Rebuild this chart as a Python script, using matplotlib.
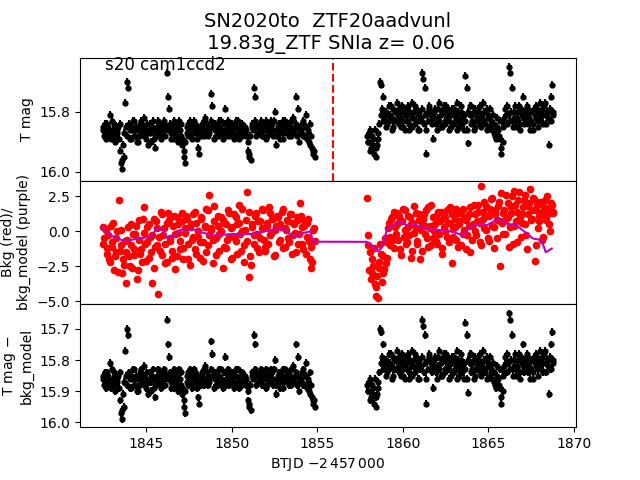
import matplotlib
matplotlib.use('Agg')
import matplotlib.pyplot as plt
import numpy as np

# T mag, first orbit (~1842.45 - 1854.85)
mag_a = [15.86, 15.88, 15.84, 15.87, 15.85, 15.81, 15.89, 15.86, 15.84, 15.88,
         15.87, 15.85, 15.93, 15.97, 15.99, 15.95, 15.77, 15.70, 15.72, 15.86,
         15.89, 15.85, 15.83, 15.88, 15.86, 15.90, 15.84, 15.87, 15.85, 15.82,
         15.88, 15.86, 15.91, 15.84, 15.87, 15.85, 15.89, 15.92, 15.86, 15.83,
         15.87, 15.85, 15.88, 15.84, 15.86, 15.67, 15.75, 15.79, 15.87, 15.85,
         15.89, 15.84, 15.86, 15.90, 15.83, 15.88, 15.91, 15.93, 15.97, 15.87,
         15.84, 15.86, 15.88, 15.85, 15.83, 15.87, 15.89, 15.85, 15.94, 15.86,
         15.84, 15.88, 15.82, 15.86, 15.85, 15.87, 15.74, 15.78, 15.84, 15.86,
         15.88, 15.85, 15.83, 15.87, 15.86, 15.84, 15.79, 15.88, 15.85, 15.87,
         15.84, 15.86, 15.89, 15.85, 15.83, 15.87, 15.86, 15.84, 15.88, 15.85,
         15.87, 15.86, 15.90, 15.94, 15.96, 15.85, 15.72, 15.75, 15.84, 15.87,
         15.85, 15.83, 15.88, 15.86, 15.84, 15.89, 15.85, 15.87, 15.83, 15.86,
         15.88, 15.80, 15.91, 15.85, 15.87, 15.84, 15.86, 15.89, 15.83, 15.85,
         15.87, 15.84, 15.88, 15.86, 15.82, 15.85, 15.75, 15.79, 15.90, 15.86,
         15.84, 15.88, 15.85, 15.81, 15.87, 15.90, 15.84, 15.92, 15.93, 15.95]
# in-between cadences, first orbit
mag_a2 = [15.85, 15.87, 15.89, 15.84, 15.86, 15.88, 15.83, 15.87, 15.90, 15.85,
          15.86, 15.89, 15.84, 15.96, 15.91, 15.87, 15.85, 15.88, 15.84, 15.89,
          15.86, 15.83, 15.88, 15.85, 15.90, 15.86, 15.88, 15.83, 15.87, 15.85,
          15.89, 15.84, 15.87, 15.86, 15.90, 15.83, 15.86, 15.88, 15.85, 15.87,
          15.84, 15.89, 15.86, 15.83, 15.88, 15.85, 15.86, 15.84, 15.89, 15.86,
          15.83, 15.87, 15.85, 15.88, 15.86, 15.84, 15.89, 15.95, 15.90, 15.85,
          15.88, 15.83, 15.86, 15.89, 15.85, 15.84, 15.87, 15.92, 15.86, 15.88,
          15.85, 15.83, 15.87, 15.84, 15.88, 15.86, 15.83, 15.85, 15.89, 15.84,
          15.86, 15.88, 15.85, 15.83, 15.87, 15.89, 15.84, 15.86, 15.83, 15.88,
          15.86, 15.84, 15.87, 15.88, 15.85, 15.83, 15.89, 15.86, 15.84, 15.87,
          15.85, 15.88, 15.93, 15.95, 15.88, 15.84, 15.86, 15.83, 15.88, 15.85,
          15.87, 15.86, 15.84, 15.88, 15.86, 15.83, 15.88, 15.85, 15.87, 15.84,
          15.86, 15.83, 15.88, 15.86, 15.84, 15.89, 15.85, 15.83, 15.87, 15.86,
          15.84, 15.88, 15.85, 15.83, 15.87, 15.86, 15.84, 15.88, 15.85, 15.87,
          15.86, 15.83, 15.88, 15.85, 15.89, 15.86, 15.91, 15.88, 15.94, 15.93]

# T mag, second orbit (~1857.9 - 1868.8)
mag_b = [15.88, 15.90, 15.86, 15.92, 15.89, 15.94, 15.95, 15.91, 15.87, 15.70,
         15.71, 15.75, 15.82, 15.80, 15.84, 15.78, 15.81, 15.86, 15.79, 15.83,
         15.80, 15.77, 15.84, 15.82, 15.78, 15.85, 15.81, 15.79, 15.83, 15.86,
         15.80, 15.77, 15.82, 15.84, 15.79, 15.81, 15.86, 15.83, 15.67, 15.69,
         15.72, 15.94, 15.80, 15.78, 15.83, 15.81, 15.89, 15.79, 15.84, 15.82,
         15.77, 15.81, 15.85, 15.80, 15.83, 15.78, 15.82, 15.86, 15.80, 15.79,
         15.84, 15.81, 15.77, 15.83, 15.85, 15.80, 15.82, 15.86, 15.68, 15.72,
         15.905, 15.81, 15.78, 15.83, 15.80, 15.85, 15.82, 15.79, 15.84, 15.81,
         15.77, 15.83, 15.80, 15.86, 15.82, 15.79, 15.84, 15.81, 15.87, 15.89,
         15.85, 15.88, 15.83, 15.94, 15.90, 15.84, 15.81, 15.78, 15.65, 15.67,
         15.72, 15.83, 15.80, 15.85, 15.82, 15.78, 15.84, 15.81, 15.75, 15.80,
         15.83, 15.79, 15.82, 15.86, 15.80, 15.84, 15.81, 15.78, 15.83, 15.80,
         15.82, 15.79, 15.84, 15.77, 15.81, 15.80, 15.91, 15.75, 15.71, 15.80]
mag_b2 = [15.90, 15.87, 15.93, 15.88, 15.91, 15.86, 15.92, 15.89, 15.84, 15.81,
          15.79, 15.83, 15.80, 15.85, 15.81, 15.83, 15.78, 15.82, 15.85, 15.80,
          15.83, 15.81, 15.79, 15.85, 15.80, 15.83, 15.86, 15.81, 15.78, 15.84,
          15.82, 15.85, 15.80, 15.78, 15.83, 15.86, 15.80, 15.82, 15.79, 15.84,
          15.81, 15.86, 15.83, 15.79, 15.81, 15.84, 15.80, 15.82, 15.86, 15.79,
          15.83, 15.85, 15.80, 15.78, 15.84, 15.81, 15.79, 15.83, 15.85, 15.81,
          15.79, 15.83, 15.86, 15.80, 15.82, 15.78, 15.84, 15.81, 15.83, 15.86,
          15.80, 15.78, 15.84, 15.81, 15.86, 15.79, 15.83, 15.80, 15.78, 15.85,
          15.82, 15.80, 15.84, 15.79, 15.81, 15.85, 15.83, 15.86, 15.84, 15.88,
          15.82, 15.86, 15.89, 15.92, 15.85, 15.82, 15.79, 15.84, 15.81, 15.83,
          15.80, 15.85, 15.82, 15.78, 15.83, 15.80, 15.86, 15.79, 15.82, 15.84,
          15.81, 15.78, 15.84, 15.80, 15.83, 15.86, 15.79, 15.82, 15.80, 15.85,
          15.77, 15.83, 15.81, 15.78, 15.84, 15.80, 15.82, 15.79, 15.83, 15.81]
mag_err = 0.012

# background flux, red points
bkg_a = [0.3, -0.5, 0.1, -1.2, -2.0, 0.4, -0.8, -2.8, -1.5, 0.0,
         2.2, -1.0, -3.0, -2.4, -3.7, -0.6, -1.8, 0.5, -2.6, -1.3,
         -0.2, -3.4, 0.8, -1.6, -2.2, 1.7, -0.9, 0.3, -1.9, -0.4,
         -3.7, 0.9, -1.1, 0.2, -4.5, -1.4, 1.2, -0.3, -2.3, 0.6,
         1.3, -0.7, -1.9, 0.4, -2.7, 1.0, -0.1, -1.3, 0.7, -2.0,
         0.2, 1.1, -0.9, -2.4, 0.5, -0.4, 1.4, -1.6, 0.0, -0.8,
         0.9, -2.1, 0.3, 1.6, -1.0, 2.6, 0.1, -0.6, 1.8, -1.7,
         0.4, -0.2, 1.0, -2.6, 0.6, -1.2, 1.5, -0.4, 0.2, -1.9,
         1.2, -0.7, 0.5, 1.9, -1.4, 0.0, -2.2, 0.8, 2.8, -3.3,
         -2.4, 0.3, -0.9, 1.3, -0.2, -1.5, 0.7, 1.6, -0.6, -1.1,
         0.4, 1.7, -0.3, 0.9, -1.8, 0.1, 1.1, -0.8, 0.5, 1.4,
         -1.2, 0.2, 0.8, -0.5, 1.2, -1.6, 0.6, -0.1, 1.0, -0.9,
         2.0, 0.3, -1.3, 0.7, -0.4, 0.9, -2.0, -2.6, 0.1, -0.7]
bkg_a2 = [-0.9, 0.2, -1.6, -0.3, -2.2, -1.1, 0.6, -1.8, -0.5, -2.9,
          -1.4, 0.1, -2.0, -0.7, -1.5, 0.3, -2.5, -1.0, -0.2, -1.7,
          0.4, -2.8, -0.6, -1.3, 0.9, -0.1, -2.1, -0.8, 0.5, -1.5,
          -0.3, -2.6, 0.7, -1.0, -0.4, 1.4, -1.7, 0.2, -0.9, -2.2,
          0.8, -0.5, -1.4, 1.1, -0.2, -1.8, 0.5, -0.7, 1.3, -1.2,
          -0.1, 0.9, -2.0, 0.3, -0.6, 1.2, -1.3, 0.6, -0.4, -1.9,
          1.0, -0.8, 0.4, -1.5, 1.5, -0.3, 0.2, -2.3, 0.7, -0.5,
          1.1, -1.4, 0.0, 0.8, -1.1, 0.5, -0.6, 1.3, -2.0, 0.3,
          -0.4, 1.0, -1.6, 0.6, -0.2, 1.6, -1.0, 0.1, -0.7, 1.4,
          -1.8, 0.5, -0.3, 1.1, -1.2, 0.7, -0.5, 0.2, 1.5, -1.4,
          0.6, -0.9, 1.3, -0.1, 0.9, -1.7, 0.4, 1.0, -0.6, 0.3,
          1.6, -1.1, 0.1, 0.7, -0.8, 1.2, -0.3, 0.5, -1.5, 0.8,
          -0.2, 1.1, -0.9, 0.4, -1.6, 0.6, -0.7, -1.1, -2.2, 0.2]
bkg_b = [2.4, -0.3, -1.5, -3.0, -2.5, -3.8, -4.6, -4.8, -2.2, -1.6,
         -3.0, -2.7, -0.8, -1.9, 0.6, -0.4, 1.0, -1.2, 0.3, 1.3,
         -0.6, 0.8, -1.7, 1.6, 0.1, -0.9, 1.1, -0.3, 0.5, -1.4,
         1.8, 0.2, -0.7, 1.2, -2.0, 0.6, 0.9, -0.2, 1.5, -1.1,
         0.4, 1.9, -0.5, 0.0, 1.1, -0.9, 0.7, 1.4, -1.6, 0.3,
         1.0, -0.4, 0.6, 1.7, -2.3, 0.2, 0.9, -0.6, 1.3, 0.5,
         -1.0, 1.6, 0.1, 0.8, -0.3, 1.2, -1.5, 0.4, 1.9, 0.0,
         0.7, 1.4, -0.8, 3.2, 0.9, 0.2, 1.8, -0.5, 1.1, 2.3,
         0.4, -1.2, 1.5, 0.8, 2.1, -2.5, 0.6, 1.3, -0.2, 2.6,
         1.0, 0.3, 1.7, -0.9, 2.9, 0.7, 1.4, 2.8, -0.4, 1.2,
         2.2, 0.5, -1.3, 1.8, 3.0, 0.9, 2.4, -2.1, 1.5, 0.2,
         1.1, 2.0, -0.6, 1.7, 0.8, 2.5, 1.3, 0.0, 1.9, 1.4]
bkg_b2 = [-1.0, -2.8, -3.4, -2.0, -1.2, -4.0, -3.2, -2.6, -0.9, -3.6,
          -1.8, -0.5, -2.3, 0.2, -1.0, 0.9, -0.6, 1.4, -0.2, 0.5,
          1.1, -1.3, 0.7, -0.4, 1.5, -0.8, 0.3, 1.0, -1.9, 0.6,
          -0.1, 1.3, -0.9, 0.8, 0.1, -1.4, 1.2, 0.4, -0.5, 1.7,
          0.2, -1.0, 1.0, 0.5, -0.7, 1.4, -0.2, 0.8, -1.2, 1.1,
          0.0, 1.5, -0.8, 0.6, 1.2, -0.4, 0.3, 1.6, -1.1, 0.7,
          1.3, -0.2, 0.9, -1.3, 1.0, 0.4, 1.7, -0.6, 0.5, 1.2,
          -0.3, 1.9, 0.6, -1.0, 1.4, 2.1, 0.1, 1.1, -0.7, 1.6,
          2.4, 0.3, 1.2, -0.5, 1.8, 0.7, 2.7, -0.2, 1.5, 0.9,
          2.0, -1.1, 1.3, 2.5, 0.4, 1.9, -0.8, 2.2, 1.0, 0.6,
          1.7, 2.6, -0.3, 1.2, 2.0, 0.8, 1.5, 2.3, -1.0, 1.9,
          0.7, 2.1, 1.4, -0.4, 2.2, 1.0, 1.6, 0.5, 2.0, 1.3]

# background model, purple line
model_t = [1842.45, 1842.5, 1843.1, 1843.7, 1844.7, 1845.3, 1845.6, 1846.0, 1846.2, 1846.6,
           1847.0, 1847.9, 1848.3, 1848.9, 1850.1, 1851.3, 1851.8, 1852.4, 1853.0, 1853.4,
           1853.6, 1854.0, 1854.6, 1854.75, 1857.9, 1858.3, 1858.55, 1858.75, 1859.1, 1859.6,
           1859.9, 1860.2, 1860.6, 1860.97, 1861.5, 1862.3, 1862.9, 1863.5, 1863.9, 1864.5,
           1864.9, 1865.6, 1866.0, 1866.6, 1867.0, 1867.6, 1868.1, 1868.35, 1868.7]
model_v = [0.3, 0.07, -0.4, -0.7, -0.5, -0.4, 0.2, 0.07, -0.45, -0.4,
           0.1, 0.1, -0.1, -0.3, -0.2, -0.2, -0.05, 0.1, 0.2, -0.2,
           -0.4, -0.2, 0.0, -0.75, -0.76, -1.1, -1.43, -1.2, 0.19, 0.55,
           0.67, 0.43, 0.55, 0.31, 0.14, 0.07, -0.05, -0.29, 0.31, 0.55,
           0.43, 0.9, 0.55, 0.43, 0.07, -0.52, -0.64, -1.5, -1.24]

peak_time = 1855.9

# time stamps, regular cadence over each orbit (second set sits between the first)
t_mag = np.concatenate([np.linspace(1842.45, 1854.85, len(mag_a)),
                        np.linspace(1842.49, 1854.81, len(mag_a2)),
                        np.linspace(1857.9, 1868.8, len(mag_b)),
                        np.linspace(1857.94, 1868.76, len(mag_b2))])
t_bkg = np.concatenate([np.linspace(1842.45, 1854.85, len(bkg_a)),
                        np.linspace(1842.5, 1854.8, len(bkg_a2)),
                        np.linspace(1857.9, 1868.8, len(bkg_b)),
                        np.linspace(1857.95, 1868.75, len(bkg_b2))])
mag = np.array(mag_a + mag_a2 + mag_b + mag_b2)
bkg = np.array(bkg_a + bkg_a2 + bkg_b + bkg_b2)

fig, (ax1, ax2, ax3) = plt.subplots(3, 1, sharex=True, figsize=(6.4, 4.8), dpi=100)
fig.subplots_adjust(hspace=0)

ax1.errorbar(t_mag, mag, yerr=mag_err, fmt='ko', ms=3.5)
ax1.axvline(peak_time, color='r', ls='--', lw=1.5)
ax1.set_ylim(16.03, 15.62)
ax1.set_ylabel('T mag')
ax1.text(0.05, 0.9, 's20 cam1ccd2', transform=ax1.transAxes, fontsize=12)
ax1.set_title('SN2020to  ZTF20aadvunl\n 19.83g_ZTF SNIa z= 0.06', fontsize=14)

ax2.plot(t_bkg, bkg, 'ro', ms=4.5)
ax2.plot(model_t, model_v, color='m', lw=1.5)
ax2.set_ylabel('Bkg (red)/\nbkg_model (purple)')

ax3.errorbar(t_mag, mag, yerr=mag_err, fmt='ko', ms=3.5)
ax3.set_ylim(16.016, 15.62)
ax3.set_ylabel('T mag $-$\nbkg_model')
ax3.set_xlabel(r'BTJD $-2\,457\,000$')

plt.savefig('out.png')
